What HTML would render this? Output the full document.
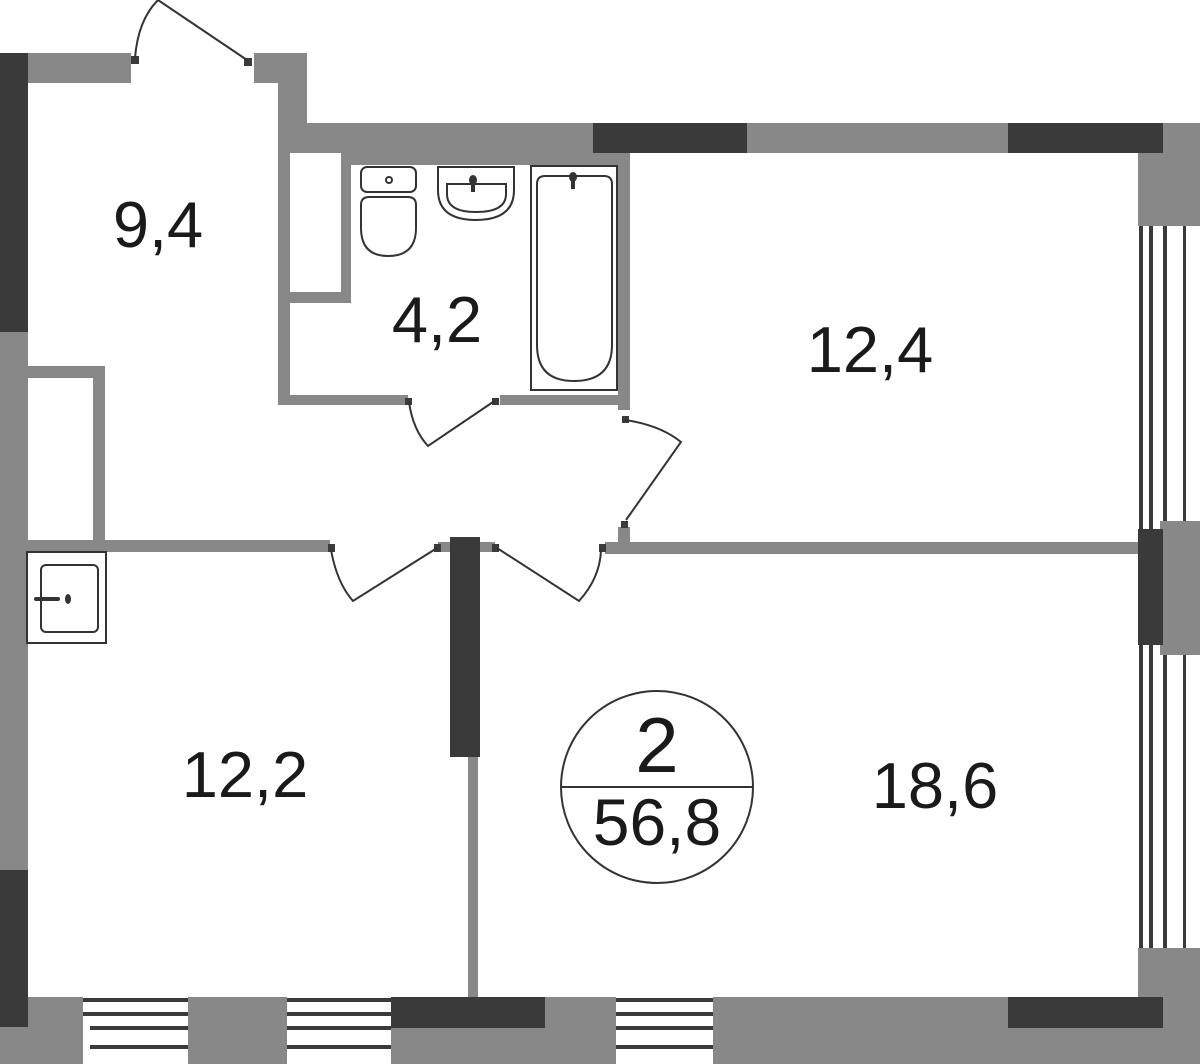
<!DOCTYPE html>
<html><head><meta charset="utf-8"><style>
html,body{margin:0;padding:0;background:#fff;}
svg{display:block;}
text{font-family:"Liberation Sans",Arial,sans-serif;fill:#1a1a1a;}
</style></head><body>
<svg width="1200" height="1064" viewBox="0 0 1200 1064" xmlns="http://www.w3.org/2000/svg">
<g fill="#888">
<!-- top-left walls -->
<rect x="28" y="53" width="103" height="30"/>
<rect x="254" y="53" width="24" height="30"/>
<rect x="278" y="53" width="29" height="100"/>
<rect x="307" y="123" width="286" height="30"/>
<rect x="747" y="123" width="261" height="30"/>
<rect x="1138" y="123" width="62" height="103"/>
<!-- left wall -->
<rect x="0" y="330" width="28" height="540"/>
<rect x="28" y="366" width="77" height="12"/>
<rect x="93" y="366" width="12" height="176"/>
<!-- bathroom -->
<rect x="278" y="153" width="12" height="252"/>
<rect x="341" y="153" width="10" height="150"/>
<rect x="290" y="292" width="61" height="11"/>
<rect x="351" y="153" width="267" height="12"/>
<rect x="290" y="395" width="118" height="10"/>
<rect x="500" y="395" width="118" height="10"/>
<rect x="618" y="153" width="12" height="257"/>
<!-- horizontal interior wall -->
<rect x="28" y="540" width="302" height="12"/>
<rect x="438" y="542" width="12" height="10"/>
<rect x="480" y="542" width="15" height="10"/>
<rect x="605" y="542" width="535" height="12"/>
<rect x="618" y="527" width="12" height="17"/>
<!-- vertical interior -->
<rect x="468" y="755" width="10" height="242"/>
<!-- right -->
<rect x="1160" y="521" width="40" height="134"/>
<rect x="1138" y="948" width="62" height="116"/>
<!-- bottom -->
<rect x="0" y="997" width="83" height="67"/>
<rect x="188" y="997" width="99" height="67"/>
<rect x="391" y="997" width="225" height="67"/>
<rect x="713" y="997" width="425" height="67"/>
</g>
<g fill="#3a3a3a">
<rect x="0" y="53" width="28" height="279"/>
<rect x="593" y="123" width="154" height="30"/>
<rect x="1008" y="123" width="155" height="30"/>
<rect x="0" y="870" width="28" height="157"/>
<rect x="450" y="537" width="30" height="220"/>
<rect x="1138" y="529" width="25" height="116"/>
<rect x="391" y="997" width="154" height="31"/>
<rect x="1008" y="997" width="155" height="31"/>
<!-- right window lines -->
<rect x="1139" y="226" width="4" height="303"/><rect x="1149" y="226" width="4" height="303"/>
<rect x="1163" y="226" width="4" height="295"/><rect x="1183" y="226" width="3" height="295"/>
<rect x="1139" y="645" width="4" height="303"/><rect x="1149" y="645" width="4" height="303"/>
<rect x="1163" y="655" width="4" height="293"/><rect x="1183" y="655" width="3" height="293"/>
<!-- bottom window lines -->
<rect x="83" y="998" width="105" height="4"/><rect x="83" y="1012" width="105" height="4"/>
<rect x="90" y="1026" width="98" height="4"/><rect x="90" y="1045" width="98" height="4"/>
<rect x="287" y="998" width="104" height="4"/><rect x="287" y="1012" width="104" height="4"/>
<rect x="287" y="1026" width="104" height="4"/><rect x="287" y="1045" width="104" height="4"/>
<rect x="616" y="998" width="97" height="4"/><rect x="616" y="1012" width="97" height="4"/>
<rect x="616" y="1026" width="97" height="4"/><rect x="616" y="1045" width="97" height="4"/>
<!-- hinges -->
<rect x="131" y="56" width="8" height="8"/><rect x="244" y="58" width="8" height="8"/>
<rect x="405" y="398" width="7" height="7"/><rect x="492" y="398" width="7" height="7"/>
<rect x="622" y="416" width="7" height="7"/><rect x="621" y="521" width="7" height="7"/>
<rect x="328" y="544" width="7" height="8"/><rect x="434" y="544" width="7" height="8"/>
<rect x="492" y="544" width="7" height="8"/><rect x="599" y="544" width="7" height="8"/>
</g>
<g fill="none" stroke="#333" stroke-width="2">
<!-- doors -->
<path d="M135 58 Q138 20 158 0 L247 60"/>
<path d="M409 402 Q413 430 428 446 L496 400"/>
<path d="M625 420 Q660 425 681 442 L626 520"/>
<path d="M331 550 Q337 583 353 601 L437 548"/>
<path d="M497 548 L579 601 Q600 578 601 550"/>
<!-- toilet -->
<rect x="361" y="167" width="55" height="25" rx="6"/>
<path d="M361 205 Q361 197 369 197 L408 197 Q416 197 416 205 L416 228 Q416 256 388 256 Q361 256 361 228 Z"/>
<circle cx="389" cy="180" r="3"/>
<!-- sink -->
<path d="M438 167 L514 167 L514 190 Q514 220 476 220 Q438 220 438 190 Z"/>
<path d="M447 184 L506 184 L506 194 Q506 212 476 212 Q447 212 447 194 Z"/>
<!-- bath -->
<rect x="531" y="166" width="86" height="224"/>
<path d="M537 184 Q537 176 545 176 L604 176 Q612 176 612 184 L612 345 Q612 381 574 381 Q537 381 537 345 Z"/>
<!-- kitchen sink -->
<rect x="27" y="552" width="79" height="91"/>
<rect x="41" y="565" width="57" height="67" rx="5"/>
<!-- circle -->
<circle cx="657" cy="787" r="96"/>
<line x1="561" y1="787" x2="753" y2="787"/>
</g>
<g fill="#333">
<ellipse cx="473" cy="180" rx="4" ry="5"/><rect x="471" y="182" width="4" height="10"/>
<ellipse cx="573" cy="177" rx="4" ry="5"/><rect x="571" y="179" width="4" height="10"/>
<rect x="34" y="597" width="26" height="4" rx="2"/><ellipse cx="68" cy="599" rx="3" ry="5"/>
</g>
<text x="158" y="247" font-size="65" text-anchor="middle">9,4</text>
<text x="437" y="342" font-size="65" text-anchor="middle">4,2</text>
<text x="870" y="372" font-size="65" text-anchor="middle">12,4</text>
<text x="245" y="797" font-size="65" text-anchor="middle">12,2</text>
<text x="935" y="808" font-size="65" text-anchor="middle">18,6</text>
<text x="657" y="772" font-size="78" text-anchor="middle">2</text>
<text x="657" y="845" font-size="66" text-anchor="middle">56,8</text>
</svg>
</body></html>
